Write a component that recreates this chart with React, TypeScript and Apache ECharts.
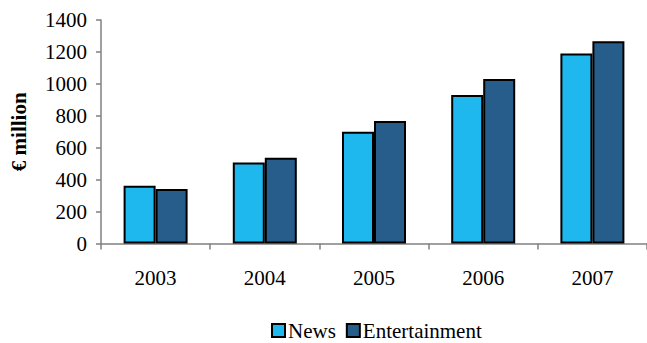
import React, { useEffect, useRef } from "react";
import * as echarts from "echarts";

const years = ["2003", "2004", "2005", "2006", "2007"];
const news = [362, 508, 700, 930, 1190];
const entertainment = [341, 537, 767, 1030, 1267];
const seriesNames = ["News", "Entertainment"];

const FONT = "Liberation Serif";

export default function App() {
  const ref = useRef<HTMLDivElement>(null);
  useEffect(() => {
    const chart = echarts.init(ref.current!, null, { renderer: "svg" });
    chart.setOption({
      animation: false,
      textStyle: { fontFamily: FONT },
      grid: { left: 100, top: 20, bottom: 99.5, right: -10, containLabel: false },
      legend: {
        bottom: 0,
        left: 266,
        padding: [0, 5, 2, 5],
        itemWidth: 13,
        itemHeight: 13,
        itemGap: 10,
        icon: "rect",
        textStyle: { fontFamily: FONT, fontSize: 21, lineHeight: 17, color: "#000", padding: [0, 0, 0, -2] },
        data: seriesNames,
      },
      xAxis: {
        type: "category",
        data: years,
        axisLine: { lineStyle: { color: "#808080", width: 1.5 } },
        axisTick: { show: true, length: 6, lineStyle: { color: "#808080", width: 1.5 } },
        axisLabel: { fontFamily: FONT, fontSize: 21, color: "#000", margin: 24 },
      },
      yAxis: {
        type: "value",
        min: 0,
        max: 1400,
        interval: 200,
        name: "€ million",
        nameLocation: "middle",
        nameGap: 72,
        nameTextStyle: { fontFamily: FONT, fontSize: 21, fontWeight: "bold", color: "#000" },
        splitLine: { show: false },
        axisLine: { show: true, lineStyle: { color: "#808080", width: 1.5 } },
        axisTick: { show: true, length: 5, lineStyle: { color: "#808080", width: 1.5 } },
        axisLabel: {
          fontFamily: FONT,
          fontSize: 21,
          color: "#000",
          margin: 14,
          formatter: (v: number) => String(v),
        },
      },
      series: [
        {
          name: seriesNames[0],
          type: "bar",
          data: news,
          barWidth: 32,
          barGap: "0%",
          itemStyle: { color: "#1EB8EE", borderColor: "#000", borderWidth: 2 },
        },
        {
          name: seriesNames[1],
          type: "bar",
          data: entertainment,
          barWidth: 32,
          barGap: "0%",
          itemStyle: { color: "#275D8A", borderColor: "#000", borderWidth: 2 },
        },
      ],
    });
    return () => chart.dispose();
  }, []);
  return <div ref={ref} style={{ width: 647, height: 343, position: "absolute", left: 0, top: 0, background: "#fff" }} />;
}
